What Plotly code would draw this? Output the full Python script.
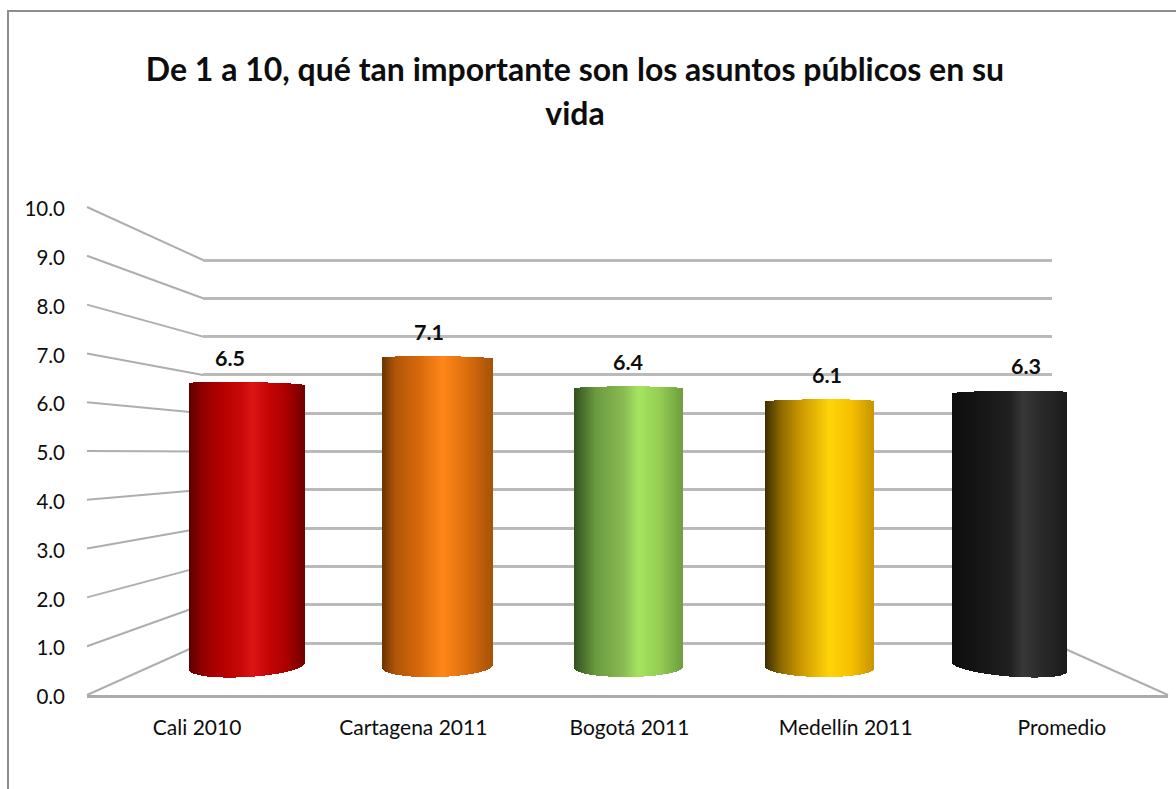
import numpy as np
import plotly.graph_objects as go

# Survey results
categories = ["Cali 2010", "Cartagena 2011", "Bogotá 2011", "Medellín 2011", "Promedio"]
values = [6.5, 7.1, 6.4, 6.1, 6.3]
y_ticks = list(range(0, 11))
title_lines = ["De 1 a 10, qué tan importante son los asuntos públicos en su", "vida"]

# Horizontal shading of each cylinder: (position across the body, colour)
shades = [
    [(0, "#5a0000"), (.1, "#8f0000"), (.25, "#b00000"), (.45, "#c80808"), (.55, "#dd1414"),
     (.7, "#c40404"), (.85, "#aa0000"), (1, "#740000")],
    [(0, "#6b3300"), (.12, "#b05508"), (.35, "#d96a0c"), (.55, "#ff8618"), (.75, "#e0700e"),
     (1, "#a85208")],
    [(0, "#33501f"), (.2, "#6a9a3f"), (.45, "#88b952"), (.6, "#a5e45f"), (.8, "#93cc52"),
     (1, "#6f9f40")],
    [(0, "#3d2c00"), (.15, "#8f6b00"), (.35, "#d09c00"), (.6, "#ffd40a"), (.8, "#f5bf00"),
     (1, "#c99600")],
    [(0, "#0e0e0e"), (.2, "#141414"), (.5, "#202020"), (.62, "#383838"), (.8, "#282828"),
     (1, "#1c1c1c")],
]

W, H = 1176, 789
FONT = "Lato"
TEXT = "#0d0d0d"

# Pixel frame of the pseudo-3D box
FRONT_L, FRONT_R, FRONT_0, FRONT_10 = 87, 1168, 695, 207
BACK_L, BACK_R, BACK_0, BACK_10 = 203, 1052, 643, 260
BACK_PX = (BACK_0 - BACK_10) / 10
BACK_PAD = 0.5  # keeps the first and last gridline away from the axis ends
# Plane through the cylinders
MID_C, MID_STEP, MID_0, MID_10 = 628, 190.6, 665, 233
MID_PX = (MID_0 - MID_10) / 10
MID_FLOOR = -1.0  # room below zero for the rounded cylinder bottoms

body_px = [114.5, 110, 108, 108, 114.7]
bottom_tilt = [-3.5, -1.5, -0.5, 1.0, 4.5]
top_tilt = [1.0, 0.5, 0.0, -0.3, -0.6]
bottom_sag = [10.5, 10.5, 9.5, 9.5, 9.5]
bottom_drop = [1.5, 1.5, 2.5, 2.5, 2.0]
top_bulge = 2.2


def hex_rgb(c):
    return np.array([int(c[k:k + 2], 16) for k in (1, 3, 5)], dtype=float)


def shade_at(stops, p):
    pos = [s[0] for s in stops]
    rgb = np.array([hex_rgb(s[1]) for s in stops])
    r, g, b = (np.interp(p, pos, rgb[:, k]) for k in range(3))
    return f"rgb({r:.0f},{g:.0f},{b:.0f})"


def px_x(px):
    return px / W


def px_y(px):
    return 1 - px / H


def front_y(v):
    return FRONT_0 + (FRONT_10 - FRONT_0) * v / 10


def back_y(v):
    return BACK_0 + (BACK_10 - BACK_0) * v / 10


fig = go.Figure()

# Side wall: each tick runs from the front edge back to the wall behind the bars
for v in y_ticks:
    fig.add_trace(go.Scatter(
        x=[FRONT_L, BACK_L], y=[front_y(v), back_y(v)], mode="lines",
        line=dict(color="#aeaeae", width=2), xaxis="x", yaxis="y",
        hoverinfo="skip", showlegend=False))
# Right edge of the floor
fig.add_trace(go.Scatter(
    x=[BACK_R, FRONT_R], y=[back_y(0), front_y(0)], mode="lines",
    line=dict(color="#aeaeae", width=2), xaxis="x", yaxis="y",
    hoverinfo="skip", showlegend=False))

# Back wall carries its gridlines
fig.add_trace(go.Scatter(x=[None], y=[None], xaxis="x2", yaxis="y2", mode="lines",
                         hoverinfo="skip", showlegend=False))

# Cylinders: one pixel-wide column per step, shaded across the body
for i, (cat, val) in enumerate(zip(categories, values)):
    n = int(round(body_px[i]))
    slice_w = body_px[i] / n / MID_STEP
    t = (np.arange(n) + 0.5) / n * 2 - 1
    dome = np.sqrt(1 - t ** 2)
    tops = val + (top_bulge * dome - top_tilt[i] * t) / MID_PX
    bases = -(bottom_drop[i] + bottom_tilt[i] * t + bottom_sag[i] * dome) / MID_PX
    fig.add_trace(go.Bar(
        x=i + t * body_px[i] / 2 / MID_STEP,
        y=tops - bases,
        base=bases,
        width=slice_w * 1.15,
        marker=dict(color=[shade_at(shades[i], (a + 1) / 2) for a in t], line=dict(width=0)),
        name=cat, xaxis="x3", yaxis="y3", hoverinfo="skip", showlegend=False))

# Front edge of the floor, value scale and category labels
fig.add_trace(go.Scatter(x=[None], y=[None], xaxis="x4", yaxis="y4", mode="lines",
                         hoverinfo="skip", showlegend=False))

hidden = dict(visible=False, fixedrange=True, automargin=False)
title_html = "<br>".join(f'<span style="font-size:32px">{s}</span>' for s in title_lines)

fig.update_layout(
    template="none",
    width=W, height=H,
    margin=dict(l=0, r=0, t=0, b=0),
    paper_bgcolor="white", plot_bgcolor="rgba(0,0,0,0)",
    barmode="overlay", bargap=0,
    showlegend=False,
    font=dict(family=FONT, color=TEXT),
    title=dict(
        text=title_html,
        font=dict(family=FONT, size=34.6, color=TEXT, weight="bold"),
        x=575 / W, xanchor="center", y=1 - 80.5 / H, yanchor="middle", automargin=False,
    ),
    # pixel-space frame for the slanted wall lines
    xaxis=dict(domain=[0, 1], range=[0, W], **hidden),
    yaxis=dict(domain=[0, 1], range=[H, 0], **hidden),
    # back wall
    xaxis2=dict(domain=[px_x(BACK_L), px_x(BACK_R)], range=[0, 1], anchor="y2", **hidden),
    yaxis2=dict(domain=[px_y(BACK_0 + BACK_PAD * BACK_PX), px_y(BACK_10 - BACK_PAD * BACK_PX)],
                range=[-BACK_PAD, 10 + BACK_PAD], tick0=0, dtick=1, anchor="x2",
                showgrid=True, gridcolor="#bababa", gridwidth=3, zeroline=False,
                showticklabels=False, ticks="", showline=False, fixedrange=True,
                automargin=False),
    # cylinder plane
    xaxis3=dict(domain=[px_x(MID_C - 2.5 * MID_STEP), px_x(MID_C + 2.5 * MID_STEP)],
                range=[-0.5, 4.5], anchor="y3", **hidden),
    yaxis3=dict(domain=[px_y(MID_0 + (-MID_FLOOR) * MID_PX), px_y(MID_10)],
                range=[MID_FLOOR, 10], anchor="x3", **hidden),
    # front plane
    xaxis4=dict(domain=[px_x(FRONT_L), px_x(FRONT_R)], range=[-0.5, 4.5], anchor="y4",
                tickmode="array", tickvals=list(range(len(categories))), ticktext=categories,
                ticks="", ticklabelstandoff=12, ticklabelshift=2, showgrid=False, zeroline=False,
                showline=True, linecolor="#ababab", linewidth=3,
                tickfont=dict(family=FONT, size=21, color=TEXT), fixedrange=True,
                automargin=False),
    yaxis4=dict(domain=[px_y(FRONT_0), px_y(FRONT_10)], range=[0, 10], anchor="x4",
                tickmode="array", tickvals=y_ticks, tickformat=".1f",
                ticks="", ticklabelstandoff=21, ticklabelshift=2, showgrid=False, zeroline=False,
                showline=False,
                tickfont=dict(family=FONT, size=20.5, color=TEXT), fixedrange=True,
                automargin=False),
    # chart frame: open towards the right and bottom of the page
    shapes=[dict(type="path", xref="paper", yref="paper", layer="below",
                 path=f"M {px_x(8)} 0 L {px_x(8)} {px_y(11)} L 1 {px_y(11)}",
                 line=dict(color="#8e8e8e", width=2))],
    # value labels float above the cylinders and fan out with depth
    annotations=[dict(x=i + (i - 2) * 0.045, y=v, xref="x3", yref="y3",
                      text=f"<b>{v:.1f}</b>", showarrow=False, yshift=26.5,
                      xanchor="center", yanchor="middle",
                      font=dict(family=FONT, size=21.5, color=TEXT))
                 for i, v in enumerate(values)],
)

fig.write_html("out.html")
